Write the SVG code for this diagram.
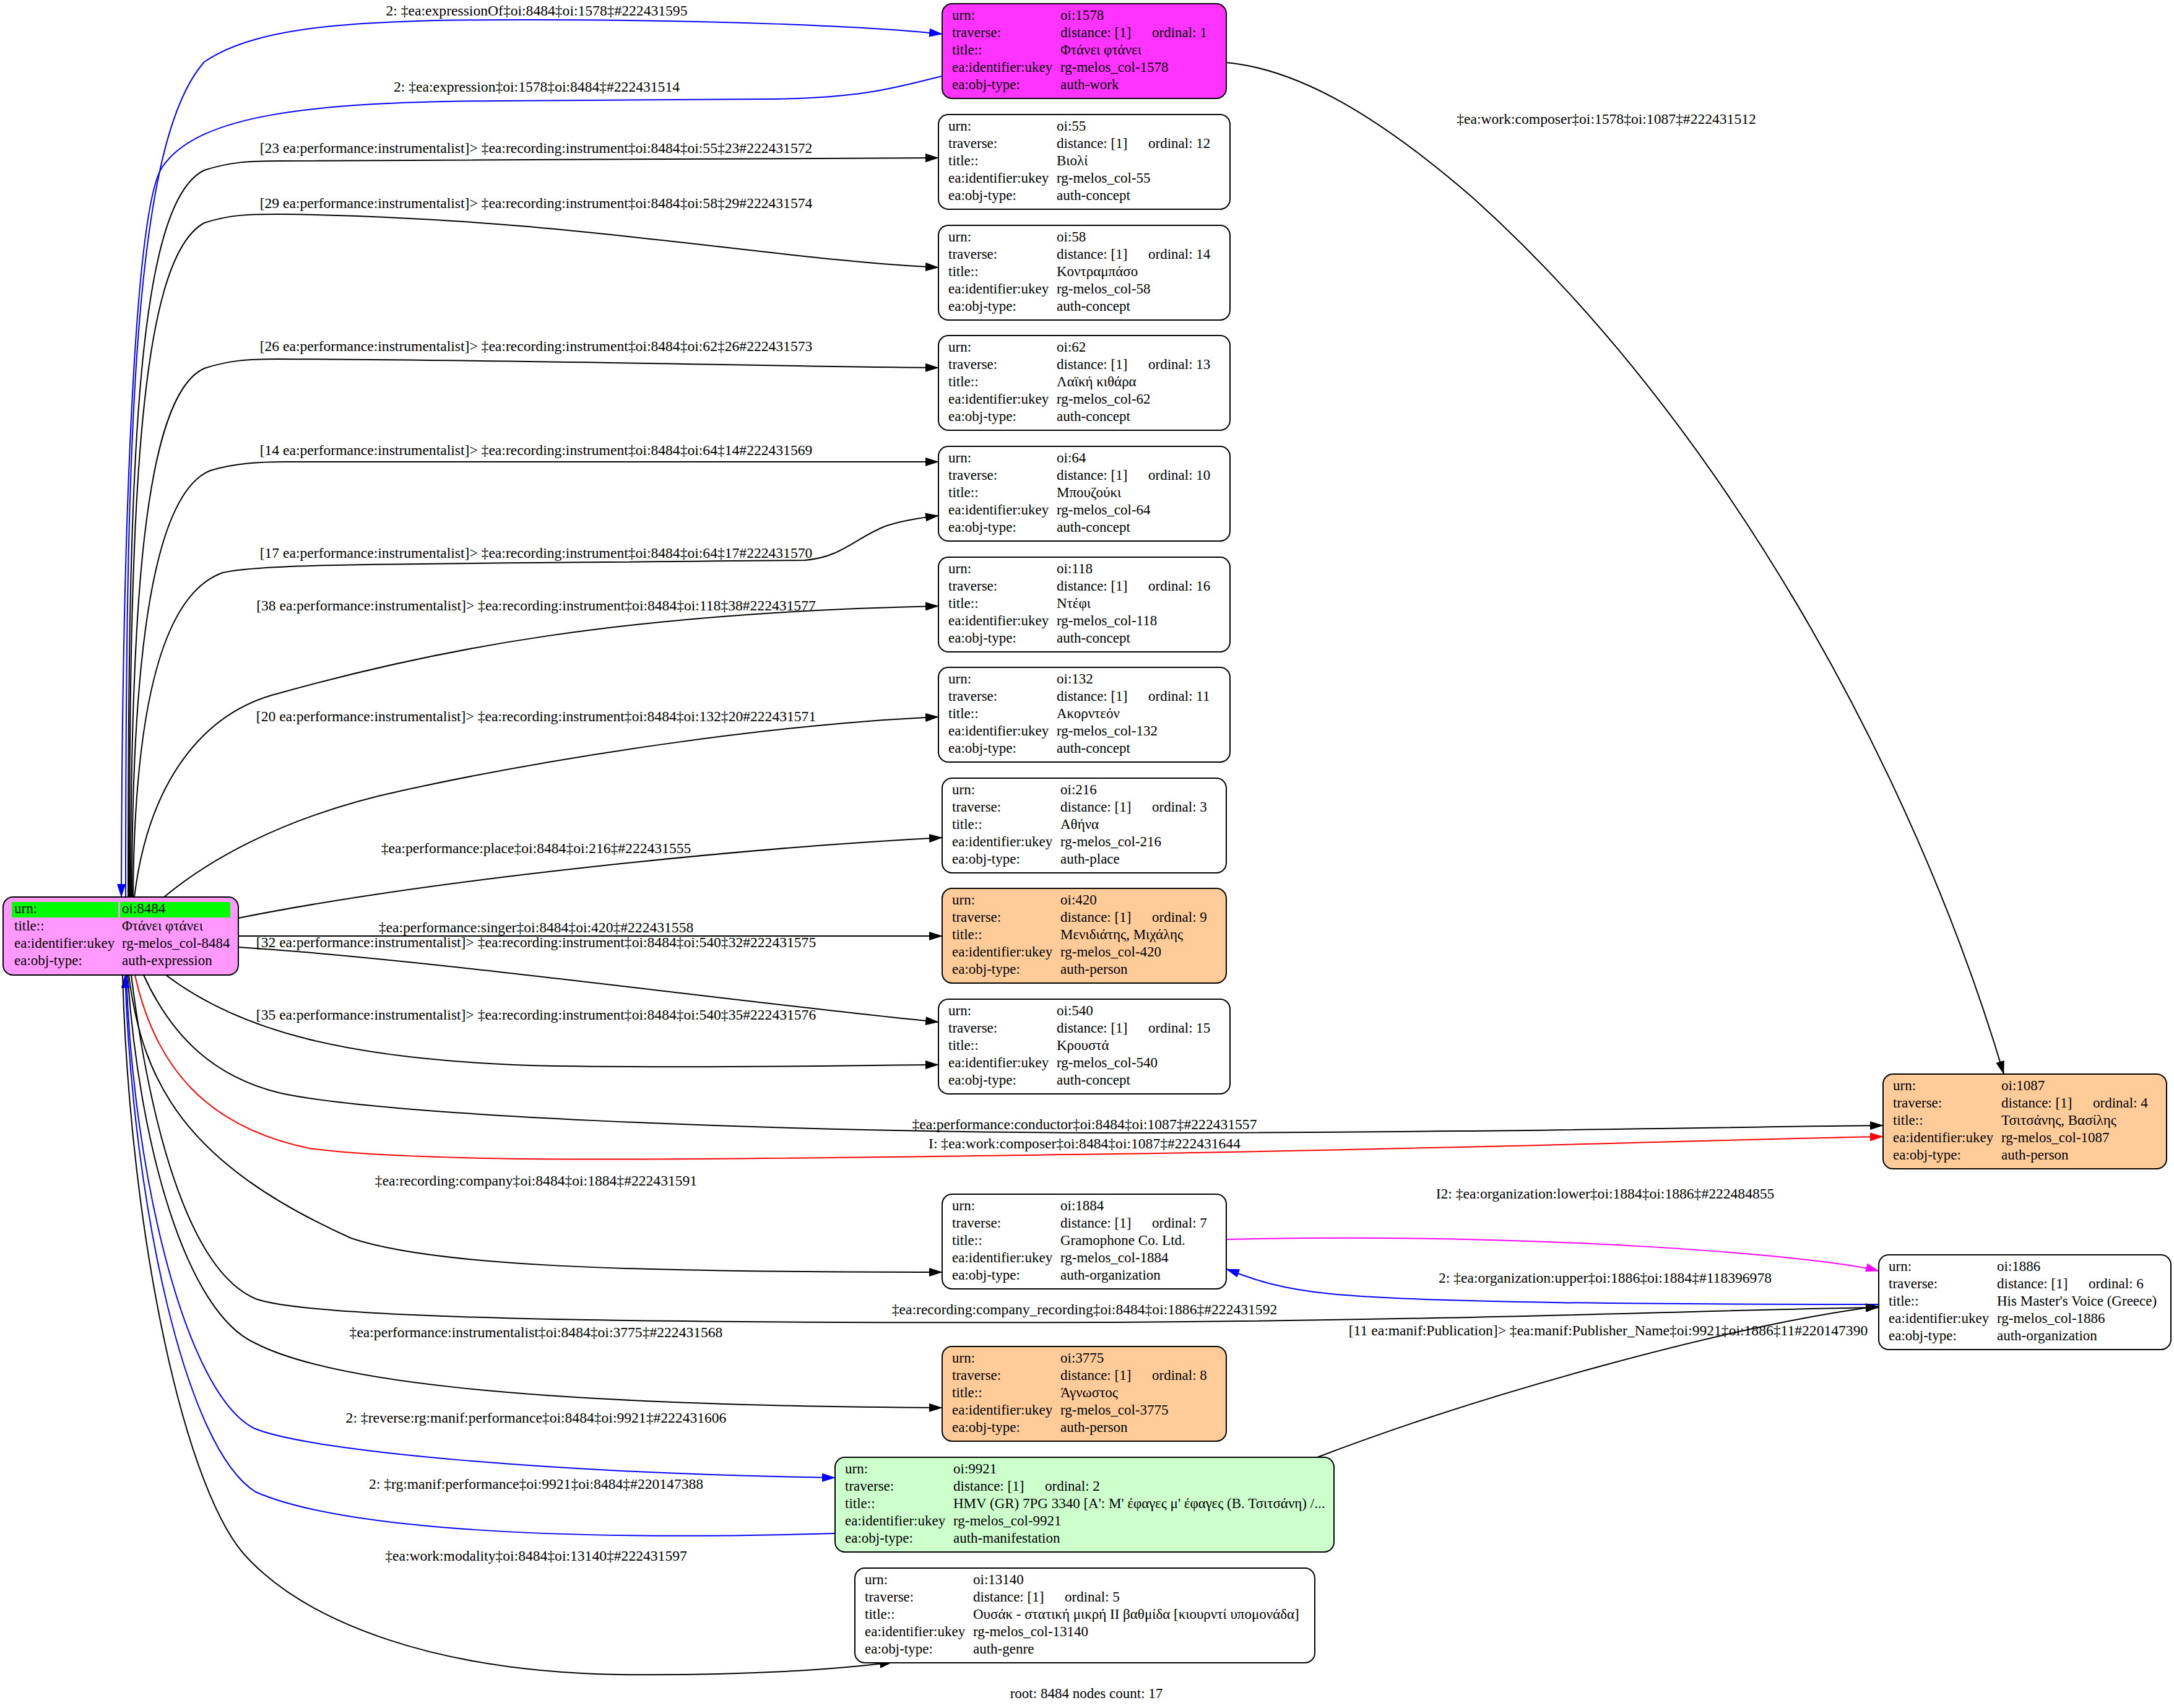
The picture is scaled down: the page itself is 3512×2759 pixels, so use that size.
<svg xmlns="http://www.w3.org/2000/svg" width="3512" height="2759" viewBox="0 0 3512 2759">
<defs>
<style>
.t{font-family:"Liberation Serif","Times New Roman",serif;font-size:23px;fill:#000}
.l{font-family:"Liberation Serif","Times New Roman",serif;font-size:23.6px;fill:#000;text-anchor:middle}
.m{text-anchor:middle}
.box{stroke:#000;stroke-width:2}
.e{fill:none;stroke:#000;stroke-width:2}
.eb{fill:none;stroke:#0000ff;stroke-width:2}
.er{fill:none;stroke:#ff0000;stroke-width:2}
.em{fill:none;stroke:#ff00ff;stroke-width:2}
</style>
<marker id="ak" markerUnits="userSpaceOnUse" markerWidth="22" markerHeight="14" refX="21" refY="7" orient="auto"><path d="M0,0 L22,7 L0,14 z" fill="#000"/></marker>
<marker id="ab" markerUnits="userSpaceOnUse" markerWidth="22" markerHeight="14" refX="21" refY="7" orient="auto"><path d="M0,0 L22,7 L0,14 z" fill="#0000ff"/></marker>
<marker id="ar" markerUnits="userSpaceOnUse" markerWidth="22" markerHeight="14" refX="21" refY="7" orient="auto"><path d="M0,0 L22,7 L0,14 z" fill="#ff0000"/></marker>
<marker id="am" markerUnits="userSpaceOnUse" markerWidth="22" markerHeight="14" refX="21" refY="7" orient="auto"><path d="M0,0 L22,7 L0,14 z" fill="#ff00ff"/></marker>
</defs>
<rect width="3512" height="2759" fill="#fff"/>

<g id="edges">
<path class="eb" marker-end="url(#ab)" d="M203,1449 C203,700 215,230 330,100 C420,38 600,32 850,32 C1150,32 1400,42 1522,55"/>
<text class="l" x="867" y="25">2: ‡ea:expressionOf‡oi:8484‡oi:1578‡#222431595</text>
<path class="eb" marker-end="url(#ab)" d="M1522,123 C1450,140 1400,158 1250,160 L800,163 C500,165 320,185 262,270 C215,340 197,900 196,1449"/>
<text class="l" x="867" y="148">2: ‡ea:expression‡oi:1578‡oi:8484‡#222431514</text>

<path class="e" marker-end="url(#ak)" d="M207,1449 C207,800 215,330 330,275 C370,262 400,260 450,260 L1516,255"/>
<text class="l" x="866" y="247">[23 ea:performance:instrumentalist]&gt; ‡ea:recording:instrument‡oi:8484‡oi:55‡23#222431572</text>
<path class="e" marker-end="url(#ak)" d="M209,1449 C209,850 220,420 330,360 C370,347 400,346 450,346 C900,350 1250,420 1516,432"/>
<text class="l" x="866" y="336">[29 ea:performance:instrumentalist]&gt; ‡ea:recording:instrument‡oi:8484‡oi:58‡29#222431574</text>
<path class="e" marker-end="url(#ak)" d="M211,1449 C211,1000 230,640 330,595 C370,582 400,580 450,580 C900,582 1250,592 1516,594"/>
<text class="l" x="866" y="567">[26 ea:performance:instrumentalist]&gt; ‡ea:recording:instrument‡oi:8484‡oi:62‡26#222431573</text>
<path class="e" marker-end="url(#ak)" d="M213,1449 C213,1100 240,800 340,760 C380,748 420,746 460,746 C900,746 1250,746 1516,746"/>
<text class="l" x="866" y="735">[14 ea:performance:instrumentalist]&gt; ‡ea:recording:instrument‡oi:8484‡oi:64‡14#222431569</text>
<path class="e" marker-end="url(#ak)" d="M215,1449 C217,1150 260,960 360,925 C420,910 600,912 1300,905 C1360,900 1380,870 1430,850 C1460,840 1490,836 1516,833"/>
<text class="l" x="866" y="901">[17 ea:performance:instrumentalist]&gt; ‡ea:recording:instrument‡oi:8484‡oi:64‡17#222431570</text>
<path class="e" marker-end="url(#ak)" d="M217,1449 C240,1260 330,1150 450,1120 C700,1050 1000,990 1516,979"/>
<text class="l" x="866" y="986">[38 ea:performance:instrumentalist]&gt; ‡ea:recording:instrument‡oi:8484‡oi:118‡38#222431577</text>
<path class="e" marker-end="url(#ak)" d="M265,1449 C330,1395 450,1320 650,1277 C900,1222 1250,1170 1516,1158"/>
<text class="l" x="866" y="1165">[20 ea:performance:instrumentalist]&gt; ‡ea:recording:instrument‡oi:8484‡oi:132‡20#222431571</text>

<path class="e" marker-end="url(#ak)" d="M385,1483 C700,1420 1200,1370 1522,1353"/>
<text class="l" x="866" y="1378">‡ea:performance:place‡oi:8484‡oi:216‡#222431555</text>
<path class="e" marker-end="url(#ak)" d="M385,1512 L1522,1512"/>
<text class="l" x="866" y="1506">‡ea:performance:singer‡oi:8484‡oi:420‡#222431558</text>
<path class="e" marker-end="url(#ak)" d="M385,1530 C700,1550 1200,1620 1516,1651"/>
<text class="l" x="866" y="1530">[32 ea:performance:instrumentalist]&gt; ‡ea:recording:instrument‡oi:8484‡oi:540‡32#222431575</text>
<path class="e" marker-end="url(#ak)" d="M268,1575 C380,1660 550,1715 900,1722 C1200,1726 1400,1720 1516,1720"/>
<text class="l" x="866" y="1647">[35 ea:performance:instrumentalist]&gt; ‡ea:recording:instrument‡oi:8484‡oi:540‡35#222431576</text>

<path class="e" marker-end="url(#ak)" d="M232,1575 C280,1680 350,1740 450,1765 C600,1800 1200,1828 1800,1830 C2400,1830 2800,1820 3042,1818"/>
<text class="l" x="1752" y="1824">‡ea:performance:conductor‡oi:8484‡oi:1087‡#222431557</text>
<path class="er" marker-end="url(#ar)" d="M218,1575 C250,1720 330,1820 500,1855 C700,1882 1200,1872 1800,1864 C2400,1855 2800,1840 3042,1836"/>
<text class="l" x="1752" y="1855">I: ‡ea:work:composer‡oi:8484‡oi:1087‡#222431644</text>

<path class="e" marker-end="url(#ak)" d="M208,1575 C230,1750 300,1880 567,2000 C700,2045 1000,2055 1522,2055"/>
<text class="l" x="866" y="1915">‡ea:recording:company‡oi:8484‡oi:1884‡#222431591</text>
<path class="e" marker-end="url(#ak)" d="M212,1575 C240,1800 300,2050 413,2098 C500,2130 1000,2138 1800,2136 C2400,2132 2800,2115 3035,2112"/>
<text class="l" x="1752" y="2123">‡ea:recording:company_recording‡oi:8484‡oi:1886‡#222431592</text>
<path class="e" marker-end="url(#ak)" d="M206,1575 C225,1850 300,2120 413,2170 C520,2225 800,2270 1522,2274"/>
<text class="l" x="866" y="2160">‡ea:performance:instrumentalist‡oi:8484‡oi:3775‡#222431568</text>
<path class="eb" marker-end="url(#ab)" d="M204,1575 C215,1900 300,2250 410,2307 C500,2345 900,2380 1349,2387"/>
<text class="l" x="866" y="2298">2: ‡reverse:rg:manif:performance‡oi:8484‡oi:9921‡#222431606</text>
<path class="eb" marker-end="url(#ab)" d="M1349,2477 C900,2490 550,2470 413,2410 C300,2340 215,1950 202,1575"/>
<text class="l" x="866" y="2405">2: ‡rg:manif:performance‡oi:9921‡oi:8484‡#220147388</text>
<path class="e" marker-end="url(#ak)" d="M198,1575 C210,2000 300,2420 403,2520 C500,2620 700,2700 1000,2705 C1200,2707 1350,2697 1442,2685"/>
<text class="l" x="866" y="2521">‡ea:work:modality‡oi:8484‡oi:13140‡#222431597</text>

<path class="e" marker-end="url(#ak)" d="M1981,101 C2100,112 2230,190 2380,320 C2780,680 3090,1240 3237,1735"/>
<text class="l" x="2595" y="200">‡ea:work:composer‡oi:1578‡oi:1087‡#222431512</text>
<path class="em" marker-end="url(#am)" d="M1981,2002 C2500,1990 2950,2030 3035,2053"/>
<text class="l" x="2593" y="1936">I2: ‡ea:organization:lower‡oi:1884‡oi:1886‡#222484855</text>
<path class="eb" marker-end="url(#ab)" d="M3035,2107 C2700,2107 2300,2105 2150,2090 C2050,2080 2010,2060 1981,2050"/>
<text class="l" x="2593" y="2072">2: ‡ea:organization:upper‡oi:1886‡oi:1884‡#118396978</text>
<path class="e" marker-end="url(#ak)" d="M2128,2354 C2400,2250 2800,2140 3035,2110"/>
<text class="l" x="2598" y="2157">[11 ea:manif:Publication]&gt; ‡ea:manif:Publisher_Name‡oi:9921‡oi:1886‡11#220147390</text>
</g>

<g id="n8484">
<rect class="box" x="5" y="1449" width="380" height="126" rx="16" fill="#ff99ff"/>
<rect x="19" y="1457" width="172" height="25" fill="#00ff00"/>
<rect x="194" y="1457" width="178" height="25" fill="#00ff00"/>
<text class="t" x="23" y="1475">urn:</text><text class="t" x="197" y="1475">oi:8484</text>
<text class="t" x="23" y="1503">title::</text><text class="t" x="197" y="1503">Φτάνει φτάνει</text>
<text class="t" x="23" y="1531">ea:identifier:ukey</text><text class="t" x="197" y="1531">rg-melos_col-8484</text>
<text class="t" x="23" y="1559">ea:obj-type:</text><text class="t" x="197" y="1559">auth-expression</text>
</g>

<g id="n1578">
<rect class="box" x="1522" y="6" width="459" height="153" rx="16" fill="#ff33ff"/>
<text class="t" x="1538" y="32">urn:</text><text class="t" x="1713" y="32">oi:1578</text>
<text class="t" x="1538" y="60">traverse:</text><text class="t" x="1713" y="60">distance: [1]</text><text class="t" x="1861" y="60">ordinal: 1</text>
<text class="t" x="1538" y="88">title::</text><text class="t" x="1713" y="88">Φτάνει φτάνει</text>
<text class="t" x="1538" y="116">ea:identifier:ukey</text><text class="t" x="1713" y="116">rg-melos_col-1578</text>
<text class="t" x="1538" y="144">ea:obj-type:</text><text class="t" x="1713" y="144">auth-work</text>
</g>

<g id="n55">
<rect class="box" x="1516" y="185" width="471" height="153" rx="16" fill="#fff"/>
<text class="t" x="1532" y="211">urn:</text><text class="t" x="1707" y="211">oi:55</text>
<text class="t" x="1532" y="239">traverse:</text><text class="t" x="1707" y="239">distance: [1]</text><text class="t" x="1855" y="239">ordinal: 12</text>
<text class="t" x="1532" y="267">title::</text><text class="t" x="1707" y="267">Βιολί</text>
<text class="t" x="1532" y="295">ea:identifier:ukey</text><text class="t" x="1707" y="295">rg-melos_col-55</text>
<text class="t" x="1532" y="323">ea:obj-type:</text><text class="t" x="1707" y="323">auth-concept</text>
</g>

<g id="n58">
<rect class="box" x="1516" y="364" width="471" height="153" rx="16" fill="#fff"/>
<text class="t" x="1532" y="390">urn:</text><text class="t" x="1707" y="390">oi:58</text>
<text class="t" x="1532" y="418">traverse:</text><text class="t" x="1707" y="418">distance: [1]</text><text class="t" x="1855" y="418">ordinal: 14</text>
<text class="t" x="1532" y="446">title::</text><text class="t" x="1707" y="446">Κοντραμπάσο</text>
<text class="t" x="1532" y="474">ea:identifier:ukey</text><text class="t" x="1707" y="474">rg-melos_col-58</text>
<text class="t" x="1532" y="502">ea:obj-type:</text><text class="t" x="1707" y="502">auth-concept</text>
</g>

<g id="n62">
<rect class="box" x="1516" y="542" width="471" height="153" rx="16" fill="#fff"/>
<text class="t" x="1532" y="568">urn:</text><text class="t" x="1707" y="568">oi:62</text>
<text class="t" x="1532" y="596">traverse:</text><text class="t" x="1707" y="596">distance: [1]</text><text class="t" x="1855" y="596">ordinal: 13</text>
<text class="t" x="1532" y="624">title::</text><text class="t" x="1707" y="624">Λαϊκή κιθάρα</text>
<text class="t" x="1532" y="652">ea:identifier:ukey</text><text class="t" x="1707" y="652">rg-melos_col-62</text>
<text class="t" x="1532" y="680">ea:obj-type:</text><text class="t" x="1707" y="680">auth-concept</text>
</g>

<g id="n64">
<rect class="box" x="1516" y="721" width="471" height="153" rx="16" fill="#fff"/>
<text class="t" x="1532" y="747">urn:</text><text class="t" x="1707" y="747">oi:64</text>
<text class="t" x="1532" y="775">traverse:</text><text class="t" x="1707" y="775">distance: [1]</text><text class="t" x="1855" y="775">ordinal: 10</text>
<text class="t" x="1532" y="803">title::</text><text class="t" x="1707" y="803">Μπουζούκι</text>
<text class="t" x="1532" y="831">ea:identifier:ukey</text><text class="t" x="1707" y="831">rg-melos_col-64</text>
<text class="t" x="1532" y="859">ea:obj-type:</text><text class="t" x="1707" y="859">auth-concept</text>
</g>

<g id="n118">
<rect class="box" x="1516" y="900" width="471" height="153" rx="16" fill="#fff"/>
<text class="t" x="1532" y="926">urn:</text><text class="t" x="1707" y="926">oi:118</text>
<text class="t" x="1532" y="954">traverse:</text><text class="t" x="1707" y="954">distance: [1]</text><text class="t" x="1855" y="954">ordinal: 16</text>
<text class="t" x="1532" y="982">title::</text><text class="t" x="1707" y="982">Ντέφι</text>
<text class="t" x="1532" y="1010">ea:identifier:ukey</text><text class="t" x="1707" y="1010">rg-melos_col-118</text>
<text class="t" x="1532" y="1038">ea:obj-type:</text><text class="t" x="1707" y="1038">auth-concept</text>
</g>

<g id="n132">
<rect class="box" x="1516" y="1078" width="471" height="153" rx="16" fill="#fff"/>
<text class="t" x="1532" y="1104">urn:</text><text class="t" x="1707" y="1104">oi:132</text>
<text class="t" x="1532" y="1132">traverse:</text><text class="t" x="1707" y="1132">distance: [1]</text><text class="t" x="1855" y="1132">ordinal: 11</text>
<text class="t" x="1532" y="1160">title::</text><text class="t" x="1707" y="1160">Ακορντεόν</text>
<text class="t" x="1532" y="1188">ea:identifier:ukey</text><text class="t" x="1707" y="1188">rg-melos_col-132</text>
<text class="t" x="1532" y="1216">ea:obj-type:</text><text class="t" x="1707" y="1216">auth-concept</text>
</g>

<g id="n216">
<rect class="box" x="1522" y="1257" width="459" height="153" rx="16" fill="#fff"/>
<text class="t" x="1538" y="1283">urn:</text><text class="t" x="1713" y="1283">oi:216</text>
<text class="t" x="1538" y="1311">traverse:</text><text class="t" x="1713" y="1311">distance: [1]</text><text class="t" x="1861" y="1311">ordinal: 3</text>
<text class="t" x="1538" y="1339">title::</text><text class="t" x="1713" y="1339">Αθήνα</text>
<text class="t" x="1538" y="1367">ea:identifier:ukey</text><text class="t" x="1713" y="1367">rg-melos_col-216</text>
<text class="t" x="1538" y="1395">ea:obj-type:</text><text class="t" x="1713" y="1395">auth-place</text>
</g>

<g id="n420">
<rect class="box" x="1522" y="1435" width="459" height="153" rx="16" fill="#ffcc99"/>
<text class="t" x="1538" y="1461">urn:</text><text class="t" x="1713" y="1461">oi:420</text>
<text class="t" x="1538" y="1489">traverse:</text><text class="t" x="1713" y="1489">distance: [1]</text><text class="t" x="1861" y="1489">ordinal: 9</text>
<text class="t" x="1538" y="1517">title::</text><text class="t" x="1713" y="1517">Μενιδιάτης, Μιχάλης</text>
<text class="t" x="1538" y="1545">ea:identifier:ukey</text><text class="t" x="1713" y="1545">rg-melos_col-420</text>
<text class="t" x="1538" y="1573">ea:obj-type:</text><text class="t" x="1713" y="1573">auth-person</text>
</g>

<g id="n540">
<rect class="box" x="1516" y="1614" width="471" height="153" rx="16" fill="#fff"/>
<text class="t" x="1532" y="1640">urn:</text><text class="t" x="1707" y="1640">oi:540</text>
<text class="t" x="1532" y="1668">traverse:</text><text class="t" x="1707" y="1668">distance: [1]</text><text class="t" x="1855" y="1668">ordinal: 15</text>
<text class="t" x="1532" y="1696">title::</text><text class="t" x="1707" y="1696">Κρουστά</text>
<text class="t" x="1532" y="1724">ea:identifier:ukey</text><text class="t" x="1707" y="1724">rg-melos_col-540</text>
<text class="t" x="1532" y="1752">ea:obj-type:</text><text class="t" x="1707" y="1752">auth-concept</text>
</g>

<g id="n1087">
<rect class="box" x="3042" y="1735" width="458" height="153" rx="16" fill="#ffcc99"/>
<text class="t" x="3058" y="1761">urn:</text><text class="t" x="3233" y="1761">oi:1087</text>
<text class="t" x="3058" y="1789">traverse:</text><text class="t" x="3233" y="1789">distance: [1]</text><text class="t" x="3381" y="1789">ordinal: 4</text>
<text class="t" x="3058" y="1817">title::</text><text class="t" x="3233" y="1817">Τσιτσάνης, Βασίλης</text>
<text class="t" x="3058" y="1845">ea:identifier:ukey</text><text class="t" x="3233" y="1845">rg-melos_col-1087</text>
<text class="t" x="3058" y="1873">ea:obj-type:</text><text class="t" x="3233" y="1873">auth-person</text>
</g>

<g id="n1884">
<rect class="box" x="1522" y="1929" width="459" height="153" rx="16" fill="#fff"/>
<text class="t" x="1538" y="1955">urn:</text><text class="t" x="1713" y="1955">oi:1884</text>
<text class="t" x="1538" y="1983">traverse:</text><text class="t" x="1713" y="1983">distance: [1]</text><text class="t" x="1861" y="1983">ordinal: 7</text>
<text class="t" x="1538" y="2011">title::</text><text class="t" x="1713" y="2011">Gramophone Co. Ltd.</text>
<text class="t" x="1538" y="2039">ea:identifier:ukey</text><text class="t" x="1713" y="2039">rg-melos_col-1884</text>
<text class="t" x="1538" y="2067">ea:obj-type:</text><text class="t" x="1713" y="2067">auth-organization</text>
</g>

<g id="n1886">
<rect class="box" x="3035" y="2027" width="472" height="153" rx="16" fill="#fff"/>
<text class="t" x="3051" y="2053">urn:</text><text class="t" x="3226" y="2053">oi:1886</text>
<text class="t" x="3051" y="2081">traverse:</text><text class="t" x="3226" y="2081">distance: [1]</text><text class="t" x="3374" y="2081">ordinal: 6</text>
<text class="t" x="3051" y="2109">title::</text><text class="t" x="3226" y="2109">His Master's Voice (Greece)</text>
<text class="t" x="3051" y="2137">ea:identifier:ukey</text><text class="t" x="3226" y="2137">rg-melos_col-1886</text>
<text class="t" x="3051" y="2165">ea:obj-type:</text><text class="t" x="3226" y="2165">auth-organization</text>
</g>

<g id="n3775">
<rect class="box" x="1522" y="2175" width="459" height="153" rx="16" fill="#ffcc99"/>
<text class="t" x="1538" y="2201">urn:</text><text class="t" x="1713" y="2201">oi:3775</text>
<text class="t" x="1538" y="2229">traverse:</text><text class="t" x="1713" y="2229">distance: [1]</text><text class="t" x="1861" y="2229">ordinal: 8</text>
<text class="t" x="1538" y="2257">title::</text><text class="t" x="1713" y="2257">Άγνωστος</text>
<text class="t" x="1538" y="2285">ea:identifier:ukey</text><text class="t" x="1713" y="2285">rg-melos_col-3775</text>
<text class="t" x="1538" y="2313">ea:obj-type:</text><text class="t" x="1713" y="2313">auth-person</text>
</g>

<g id="n9921">
<rect class="box" x="1349" y="2354" width="806" height="153" rx="16" fill="#ccffcc"/>
<text class="t" x="1365" y="2380">urn:</text><text class="t" x="1540" y="2380">oi:9921</text>
<text class="t" x="1365" y="2408">traverse:</text><text class="t" x="1540" y="2408">distance: [1]</text><text class="t" x="1688" y="2408">ordinal: 2</text>
<text class="t" x="1365" y="2436">title::</text><text class="t" x="1540" y="2436">HMV (GR) 7PG 3340 [A': Μ' έφαγες μ' έφαγες (Β. Τσιτσάνη) /...</text>
<text class="t" x="1365" y="2464">ea:identifier:ukey</text><text class="t" x="1540" y="2464">rg-melos_col-9921</text>
<text class="t" x="1365" y="2492">ea:obj-type:</text><text class="t" x="1540" y="2492">auth-manifestation</text>
</g>

<g id="n13140">
<rect class="box" x="1381" y="2533" width="743" height="153" rx="16" fill="#fff"/>
<text class="t" x="1397" y="2559">urn:</text><text class="t" x="1572" y="2559">oi:13140</text>
<text class="t" x="1397" y="2587">traverse:</text><text class="t" x="1572" y="2587">distance: [1]</text><text class="t" x="1720" y="2587">ordinal: 5</text>
<text class="t" x="1397" y="2615">title::</text><text class="t" x="1572" y="2615">Ουσάκ - στατική μικρή ΙΙ βαθμίδα [κιουρντί υπομονάδα]</text>
<text class="t" x="1397" y="2643">ea:identifier:ukey</text><text class="t" x="1572" y="2643">rg-melos_col-13140</text>
<text class="t" x="1397" y="2671">ea:obj-type:</text><text class="t" x="1572" y="2671">auth-genre</text>
</g>

<text class="t m" x="1755" y="2743">root: 8484 nodes count: 17</text>
</svg>
